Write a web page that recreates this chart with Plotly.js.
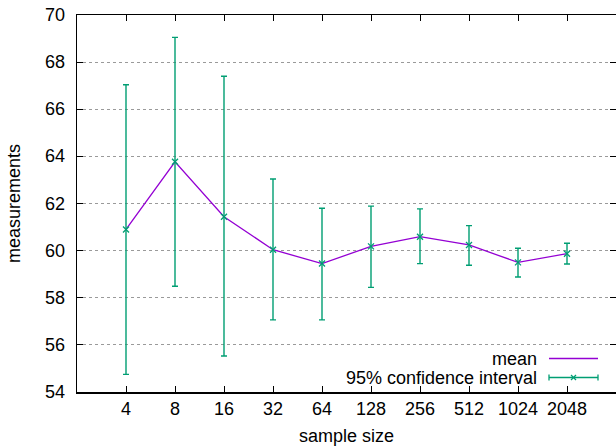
<!DOCTYPE html>
<html>
<head>
<meta charset="utf-8">
<script src="https://cdn.plot.ly/plotly-3.0.1.min.js"></script>
<style>html,body{margin:0;padding:0;background:#fff;}#chart{width:616px;height:446px;}</style>
</head>
<body>
<div id="chart"></div>
<script>
// sample sizes (categories) and their log2 positions
var sampleSizes = [4, 8, 16, 32, 64, 128, 256, 512, 1024, 2048];
var tickLabels = ["4", "8", "16", "32", "64", "128", "256", "512", "1024", "2048"];
var yTicks = [54, 56, 58, 60, 62, 64, 66, 68, 70];
var meanValues = [60.90, 63.77, 61.44, 60.04, 59.45, 60.18, 60.59, 60.24, 59.50, 59.87];
var ciUpper = [67.04, 69.05, 67.40, 63.04, 61.80, 61.89, 61.77, 61.06, 60.10, 60.31];
var ciLower = [54.75, 58.49, 55.53, 57.06, 57.06, 58.44, 59.45, 59.38, 58.88, 59.43];

var xPos = sampleSizes.map(function (s) { return Math.log2(s); });
var errPlus = ciUpper.map(function (u, i) { return u - meanValues[i]; });
var errMinus = ciLower.map(function (l, i) { return meanValues[i] - l; });

var purple = "#9400D3";
var green = "#009E73";
var font = "Liberation Sans, Arial, sans-serif";
var fs = 18;

var traces = [
  {
    x: xPos, y: meanValues, type: "scatter", mode: "lines",
    line: {color: purple, width: 1.3}, name: "mean", hoverinfo: "x+y"
  },
  {
    x: xPos, y: meanValues, type: "scatter", mode: "markers",
    marker: {symbol: "x-thin", size: 6, color: green, line: {color: green, width: 1.3}},
    error_y: {type: "data", symmetric: false, array: errPlus, arrayminus: errMinus,
              color: green, thickness: 1.4, width: 3},
    name: "95% confidence interval"
  }
];

// legend drawn gnuplot-style (text right-aligned, sample to the right)
var L = 77, W = 539, B = 392, H = 377;
function px(xp) { return (xp - L) / W; }
function py(yp) { return (B - yp) / H; }
var row1 = 358.5, row2 = 377.5, sx0 = 549, sx1 = 598, mx = 573.5;

var shapes = [
  {type: "line", xref: "paper", yref: "paper", x0: px(sx0), x1: px(sx1), y0: py(row1), y1: py(row1),
   line: {color: purple, width: 1.3}},
  {type: "line", xref: "paper", yref: "paper", x0: px(sx0), x1: px(sx1), y0: py(row2), y1: py(row2),
   line: {color: green, width: 1.3}},
  {type: "line", xref: "paper", yref: "paper", x0: px(sx0), x1: px(sx0), y0: py(row2 - 3), y1: py(row2 + 3),
   line: {color: green, width: 1.3}},
  {type: "line", xref: "paper", yref: "paper", x0: px(sx1), x1: px(sx1), y0: py(row2 - 3), y1: py(row2 + 3),
   line: {color: green, width: 1.3}},
  {type: "line", xref: "paper", yref: "paper", x0: px(mx - 2.5), x1: px(mx + 2.5), y0: py(row2 - 2.5), y1: py(row2 + 2.5),
   line: {color: green, width: 1.3}},
  {type: "line", xref: "paper", yref: "paper", x0: px(mx - 2.5), x1: px(mx + 2.5), y0: py(row2 + 2.5), y1: py(row2 - 2.5),
   line: {color: green, width: 1.3}}
];

var annotations = [
  {xref: "paper", yref: "paper", x: px(539), y: py(row1), xanchor: "right", yanchor: "middle",
   height: 16, text: "mean", showarrow: false, font: {family: font, size: fs, color: "#000"}},
  {xref: "paper", yref: "paper", x: px(539), y: py(row2), xanchor: "right", yanchor: "middle",
   height: 16, text: "95% confidence interval", showarrow: false, font: {family: font, size: fs, color: "#000"}}
];
// y tick labels placed through the y scale, gnuplot-like distance from the axis
yTicks.forEach(function (v) {
  annotations.push({xref: "paper", yref: "y", x: px(67), y: v, xanchor: "right", yanchor: "middle",
    text: String(v), showarrow: false, font: {family: font, size: fs, color: "#000"}});
});

var layout = {
  width: 616, height: 446,
  margin: {l: 77, r: 0, t: 15, b: 54, pad: 0},
  paper_bgcolor: "#fff", plot_bgcolor: "#fff",
  showlegend: false,
  font: {family: font, size: fs, color: "#000"},
  xaxis: {
    range: [1, 12], tickvals: xPos, ticktext: tickLabels,
    ticks: "inside", ticklen: 6, tickwidth: 1, tickcolor: "#000",
    showline: true, linecolor: "#000", linewidth: 1.5, mirror: "ticks",
    showgrid: false, zeroline: false,
    tickfont: {family: font, size: fs},
    title: {text: "sample size", font: {family: font, size: fs}, standoff: 15}
  },
  yaxis: {
    range: [54, 70], tickvals: yTicks, showticklabels: false,
    ticks: "inside", ticklen: 6, tickwidth: 1, tickcolor: "#000",
    showline: true, linecolor: "#000", linewidth: 1.5, mirror: "ticks",
    showgrid: true, gridcolor: "#9a9a9a", griddash: "dot", gridwidth: 1,
    zeroline: false,
    tickfont: {family: font, size: fs},
    title: {text: "measurements", font: {family: font, size: fs}, standoff: 50}
  },
  shapes: shapes,
  annotations: annotations
};

Plotly.newPlot("chart", traces, layout, {displayModeBar: false, staticPlot: true});
</script>
</body>
</html>
